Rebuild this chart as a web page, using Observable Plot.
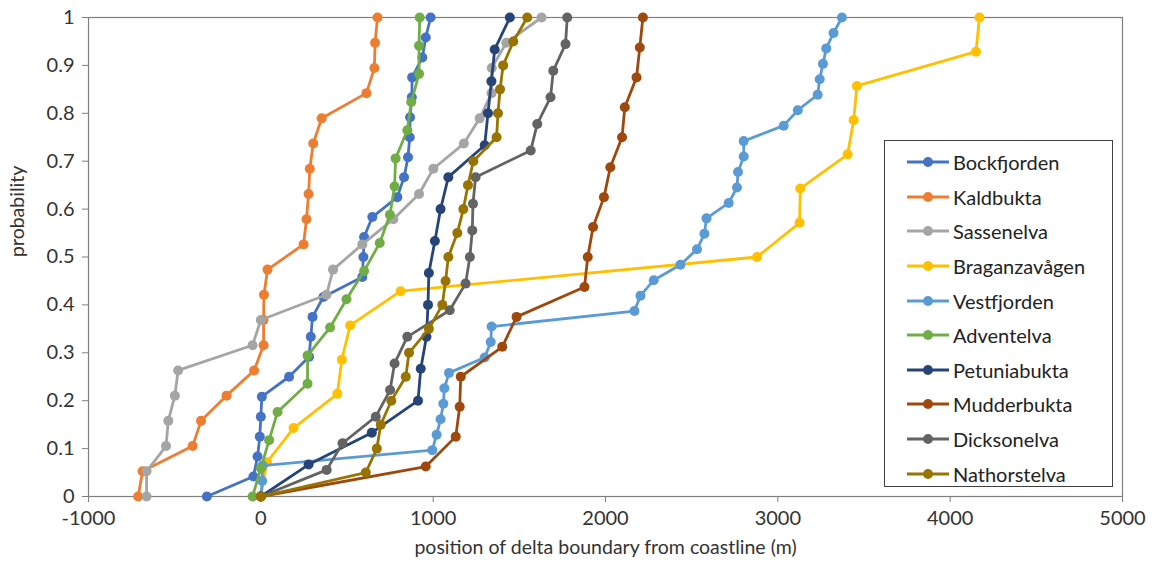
<!DOCTYPE html>
<html>
<head>
<meta charset="utf-8">
<script src="https://cdn.jsdelivr.net/npm/d3@7"></script>
<script src="https://cdn.jsdelivr.net/npm/@observablehq/plot@0.6"></script>
<style>
  body { margin: 0; background: #fff; }
  #wrap { position: relative; width: 1152px; height: 571px; font-family: Lato, "Open Sans", sans-serif; }
  #legend { position: absolute; left: 884px; top: 140px; width: 229px; height: 347px; border: 1px solid #404040; box-sizing: border-box; background: #fff; padding-top: 4px; }
  .item { display: flex; align-items: center; height: 34.6px; padding-left: 22px; font-size: 20px; color: #222; }
  .item svg { margin-right: 4px; }
</style>
</head>
<body>
<div id="wrap"></div>
<script>
const seriesNames = ["Bockfjorden","Kaldbukta","Sassenelva","Braganzavågen","Vestfjorden","Adventelva","Petuniabukta","Mudderbukta","Dicksonelva","Nathorstelva"];
const seriesColors = ["#4472C4","#ED7D31","#A5A5A5","#FFC000","#5B9BD5","#70AD47","#264478","#9E480E","#636363","#997300"];

const bockfjorden = [-313,-43,-19,-6,0,6,164,280,290,300,363,589,595,599,647,792,831,854,864,866,876,878,937,957,985];
const kaldbukta = [-712,-686,-396,-347,-199,-39,16,16,18,39,248,265,277,284,304,353,613,659,663,677];
const sassenelva = [-663,-663,-550,-537,-499,-480,-48,0,381,419,589,769,918,1001,1178,1270,1339,1340,1424,1629];
const braganzavagen = [0,35,190,444,470,518,811,2879,3126,3130,3405,3440,3459,4150,4170];
const vestfjorden = [0,8,10,995,1020,1043,1059,1065,1092,1299,1334,1339,2168,2203,2280,2435,2531,2574,2586,2715,2763,2769,2802,2802,3034,3116,3231,3243,3262,3281,3323,3372];
const adventelva = [-48,0,48,97,271,271,402,497,599,690,749,776,782,850,873,918,918,922];
const petuniabukta = [0,277,644,912,928,961,970,975,1010,1043,1088,1299,1318,1338,1357,1445];
const mudderbukta = [0,957,1131,1154,1160,1401,1484,1878,1897,1928,1991,2028,2096,2112,2180,2199,2217];
const dicksonelva = [0,382,474,667,750,776,850,1096,1188,1213,1227,1231,1246,1566,1604,1681,1697,1768,1778];
const nathorstelva = [0,609,673,696,757,841,860,975,1053,1072,1088,1140,1175,1202,1233,1368,1376,1388,1406,1465,1546];

const seriesValues = [bockfjorden,kaldbukta,sassenelva,braganzavagen,vestfjorden,adventelva,petuniabukta,mudderbukta,dicksonelva,nathorstelva];

const xTicks = [-1000,0,1000,2000,3000,4000,5000];
const yTicks = [0,0.1,0.2,0.3,0.4,0.5,0.6,0.7,0.8,0.9,1];
const yTickLabels = ["0","0.1","0.2","0.3","0.4","0.5","0.6","0.7","0.8","0.9","1"];
const xLabel = "position of delta boundary from coastline (m)";
const yLabel = "probability";

// empirical CDF: k-th sorted value at probability k/(n-1)
const data = seriesNames.map((name, i) => seriesValues[i].map((v, k, arr) => ({series: name, v, p: k / (arr.length - 1)})));

const seriesMarks = data.flatMap((rows, i) => [
  Plot.line(rows, {x: "v", y: "p", stroke: seriesColors[i], strokeWidth: 2.8}),
  Plot.dot(rows, {x: "v", y: "p", fill: seriesColors[i], r: 5, stroke: "none"})
]);

const chart = Plot.plot({
  width: 1152,
  height: 571,
  marginLeft: 88,
  marginRight: 30,
  marginTop: 17,
  marginBottom: 75,
  style: {fontFamily: "Lato, 'Open Sans', sans-serif", fontSize: "20px", color: "#333", background: "#fff"},
  x: {domain: [-1000, 5000]},
  y: {domain: [0, 1]},
  marks: [
    Plot.frame({stroke: "#7f7f7f", strokeWidth: 1.2}),
    Plot.axisX({ticks: xTicks, tickFormat: d => String(d), tickSize: 6, tickPadding: 8, label: null, stroke: "#7f7f7f", fill: "#333"}),
    Plot.axisY({ticks: yTicks, tickFormat: (d, i) => yTickLabels[i], tickSize: 6, tickPadding: 8, label: null, stroke: "#7f7f7f", fill: "#333"}),
    Plot.text([xLabel], {frameAnchor: "bottom", dy: 57, fontSize: 19.5, fill: "#333"}),
    Plot.text([yLabel], {frameAnchor: "left", rotate: -90, dx: -71, fontSize: 19.5, fill: "#333"}),
    ...seriesMarks
  ]
});

const wrap = document.getElementById("wrap");
wrap.appendChild(chart);

const legend = document.createElement("div");
legend.id = "legend";
seriesNames.forEach((name, i) => {
  const item = document.createElement("div");
  item.className = "item";
  item.innerHTML = `<svg width="42" height="12"><line x1="0" y1="6" x2="42" y2="6" stroke="${seriesColors[i]}" stroke-width="2.8"/><circle cx="21" cy="6" r="5" fill="${seriesColors[i]}"/></svg><span>${name}</span>`;
  legend.appendChild(item);
});
wrap.appendChild(legend);
</script>
</body>
</html>
